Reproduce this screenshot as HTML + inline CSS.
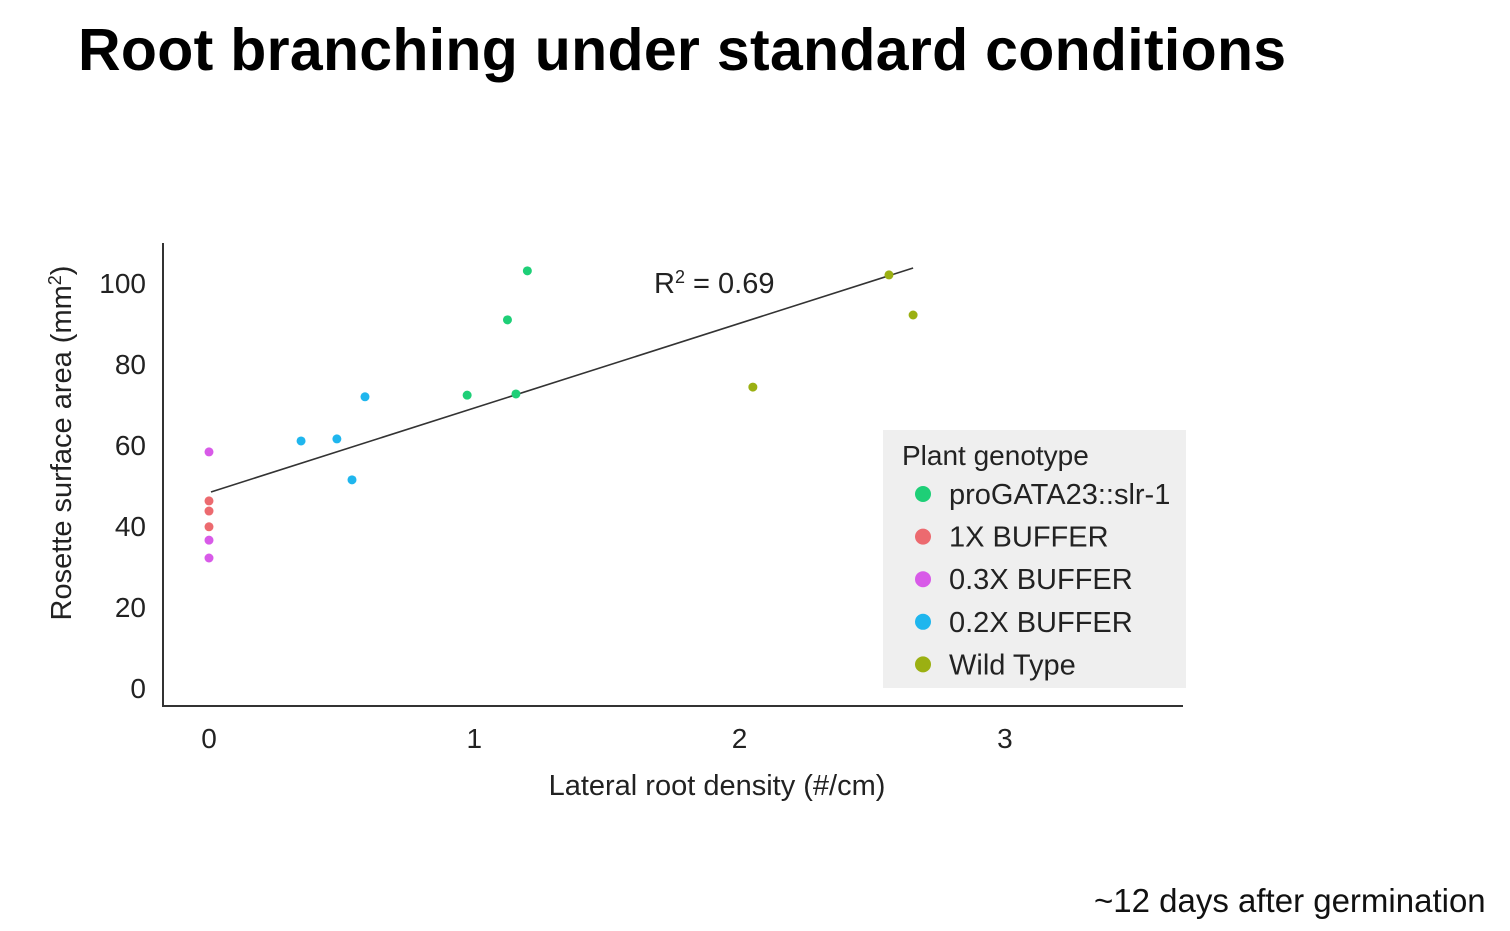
<!DOCTYPE html>
<html><head><meta charset="utf-8"><style>
html,body{margin:0;padding:0;background:#fff;}
body{width:1510px;height:931px;position:relative;overflow:hidden;font-family:"Liberation Sans",sans-serif;}
#title{position:absolute;left:78px;top:16px;font-size:59px;font-weight:bold;color:#000;letter-spacing:0.3px;}
#note{position:absolute;left:1094px;top:882px;font-size:33px;color:#111;}
svg{position:absolute;left:0;top:0;}
</style></head><body>
<div id="title">Root branching under standard conditions</div>
<div id="note">~12 days after germination</div>
<svg id="chart" width="1510" height="931"></svg>
<script>
const xTicks=[0,1,2,3];
const yTicks=[0,20,40,60,80,100];
const seriesNames=["proGATA23::slr-1","1X BUFFER","0.3X BUFFER","0.2X BUFFER","Wild Type"];
const seriesColors=["#1ecf77","#ec6a6f","#d85ae8","#1fb6ee","#9bb012"];
const greenX=[1.20,1.125,0.973,1.157];const greenY=[103,90.9,72.3,72.6];
const redX=[0,0,0];const redY=[46.2,43.7,39.8];
const magX=[0,0,0];const magY=[58.3,36.5,32.1];
const blueX=[0.347,0.482,0.588,0.539];const blueY=[61,61.5,71.9,51.4];
const wtX=[2.563,2.654,2.05];const wtY=[102,92.1,74.3];
const fitX=[0.0075,2.654];const fitY=[48.4,103.7];
const sx=v=>209+v*265.3;
const sy=v=>688-v*4.05;
const NS="http://www.w3.org/2000/svg";
const svg=document.getElementById('chart');
function mk(t,a,p){const e=document.createElementNS(NS,t);for(const k in a)e.setAttribute(k,a[k]);(p||svg).appendChild(e);return e;}
let e;
e=mk('line',{x1:163,y1:243,x2:163,y2:707,stroke:'#333','stroke-width':2});


e=mk('line',{x1:162,y1:706,x2:1183,y2:706,stroke:'#333','stroke-width':2});


xTicks.forEach(t=>{e=mk('text',{x:sx(t),y:748,'font-size':28,'text-anchor':'middle',fill:'#222'});e.textContent=t;

});
yTicks.forEach(t=>{e=mk('text',{x:146,y:sy(t)+10,'font-size':28,'text-anchor':'end',fill:'#222'});e.textContent=t;

});
e=mk('text',{x:717,y:795,'font-size':29,'text-anchor':'middle',fill:'#222'});e.textContent='Lateral root density (#/cm)';


e=mk('text',{x:0,y:0,'font-size':29,'text-anchor':'middle',fill:'#222',transform:'translate(71,443) rotate(-90)'});
e.innerHTML='Rosette surface area (mm<tspan dy="-10" font-size="18">2</tspan><tspan dy="10">)</tspan>';


e=mk('line',{x1:sx(fitX[0]),y1:sy(fitY[0]),x2:sx(fitX[1]),y2:sy(fitY[1]),stroke:'#333','stroke-width':1.6});


e=mk('text',{x:654,y:293,'font-size':29,fill:'#222'});e.innerHTML='R<tspan dy="-10" font-size="18">2</tspan><tspan dy="10"> = 0.69</tspan>';


const groups=[[greenX,greenY],[redX,redY],[magX,magY],[blueX,blueY],[wtX,wtY]];
groups.forEach((g,i)=>{g[0].forEach((xv,j)=>{e=mk('circle',{cx:sx(xv),cy:sy(g[1][j]),r:4.5,fill:seriesColors[i]});

});});
e=mk('rect',{x:883,y:430,width:303,height:258,fill:'#efefef'});


e=mk('text',{x:902,y:465,'font-size':28,fill:'#222'});e.textContent='Plant genotype';


seriesNames.forEach((n,i)=>{const y=494+i*42.6;
e=mk('circle',{cx:923,cy:y,r:8,fill:seriesColors[i]});


e=mk('text',{x:949,y:y+10,'font-size':29,fill:'#222'});e.textContent=n;

});
</script>
</body></html>
